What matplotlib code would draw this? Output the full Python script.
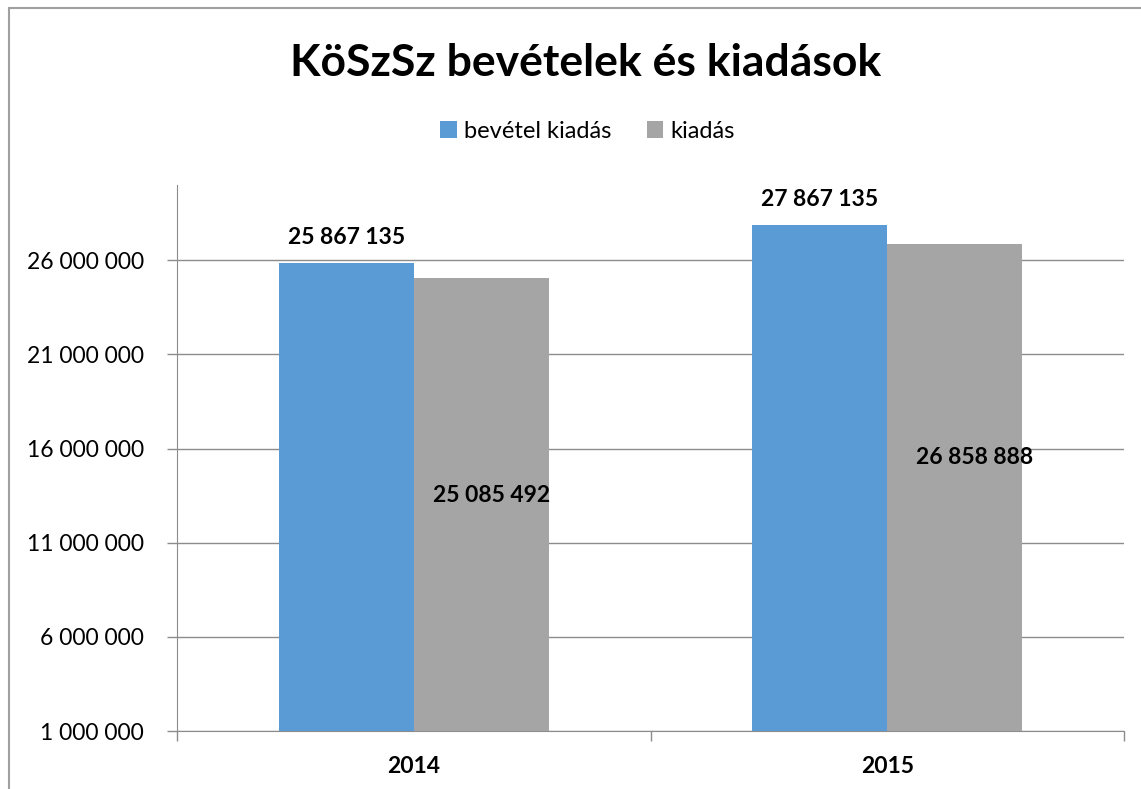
import numpy as np
import matplotlib.pyplot as plt
from matplotlib.patches import Rectangle
from matplotlib.ticker import FuncFormatter, FixedLocator

plt.rcParams['font.family'] = ['Lato', 'DejaVu Sans']

# data
years = ['2014', '2015']
bevetel = [25867135, 27867135]
kiadas = [25085492, 26858888]
series_names = ['bevétel kiadás', 'kiadás']
yticks = [1000000, 6000000, 11000000, 16000000, 21000000, 26000000]

blue = '#5B9BD5'
gray = '#A5A5A5'
line_col = '#8C8C8C'


def fmt(v, pos=None):
    return '{:,}'.format(int(v)).replace(',', ' ')


W, H = 1141, 789
fig = plt.figure(figsize=(W / 100, H / 100), dpi=100)
ax = fig.add_axes([177 / W, 1 - 731 / H, (1124 - 177) / W, (731 - 185) / H])

x = np.arange(len(years))
bw = 0.285
ax.bar(x - bw / 2, bevetel, bw, color=blue, label=series_names[0], zorder=3)
ax.bar(x + bw / 2, kiadas, bw, color=gray, label=series_names[1], zorder=3)

ax.set_xlim(-0.5, 1.5)
ax.set_ylim(1000000, 30000000)
ax.yaxis.set_major_locator(FixedLocator(yticks))
ax.yaxis.set_major_formatter(FuncFormatter(fmt))
ax.grid(axis='y', color=line_col, linewidth=1, zorder=0)

# category ticks at boundaries, labels at centres
ax.set_xticks([-0.5, 0.5, 1.5])
ax.set_xticklabels([])
ax.set_xticks(x, minor=True)
ax.set_xticklabels(years, minor=True, fontsize=16.5, fontweight='bold')
ax.tick_params(axis='x', which='minor', length=0, pad=18)
ax.tick_params(axis='x', which='major', length=7, color=line_col, width=1)
ax.tick_params(axis='y', length=7, color=line_col, width=1, labelsize=16.5, pad=17)

for s in ['top', 'right']:
    ax.spines[s].set_visible(False)
for s in ['left', 'bottom']:
    ax.spines[s].set_color(line_col)

# data labels (the grey ones were moved by hand in the original)
for xi, v in zip(x, bevetel):
    ax.text(xi - bw / 2, v + 800000, fmt(v), ha='center', va='bottom',
            fontsize=16.5, fontweight='bold')
gray_label_frac = [0.539, 0.579]
gray_label_dx = [0.021, 0.041]
for xi, v, f, dx in zip(x, kiadas, gray_label_frac, gray_label_dx):
    ax.text(xi + bw / 2 + dx, v * f, fmt(v), ha='center', va='center',
            fontsize=16.5, fontweight='bold', zorder=4)

fig.text(0.513, 1 - 63 / H, 'KöSzSz bevételek és kiadások', ha='center', va='center',
         fontsize=32, fontweight='bold')

ax.legend(loc='center', bbox_to_anchor=(0.515, 1 - 131 / H), bbox_transform=fig.transFigure,
          ncol=2, frameon=False, fontsize=17, handlelength=0.7, handleheight=0.7,
          handletextpad=0.3, columnspacing=1.5)

fig.patches.append(Rectangle((8.5 / W, -0.1), 1.2, 1.1 - 8.5 / H, transform=fig.transFigure,
                             fill=False, edgecolor='#A0A0A0', linewidth=1.5))

fig.savefig('out.png', dpi=100)
